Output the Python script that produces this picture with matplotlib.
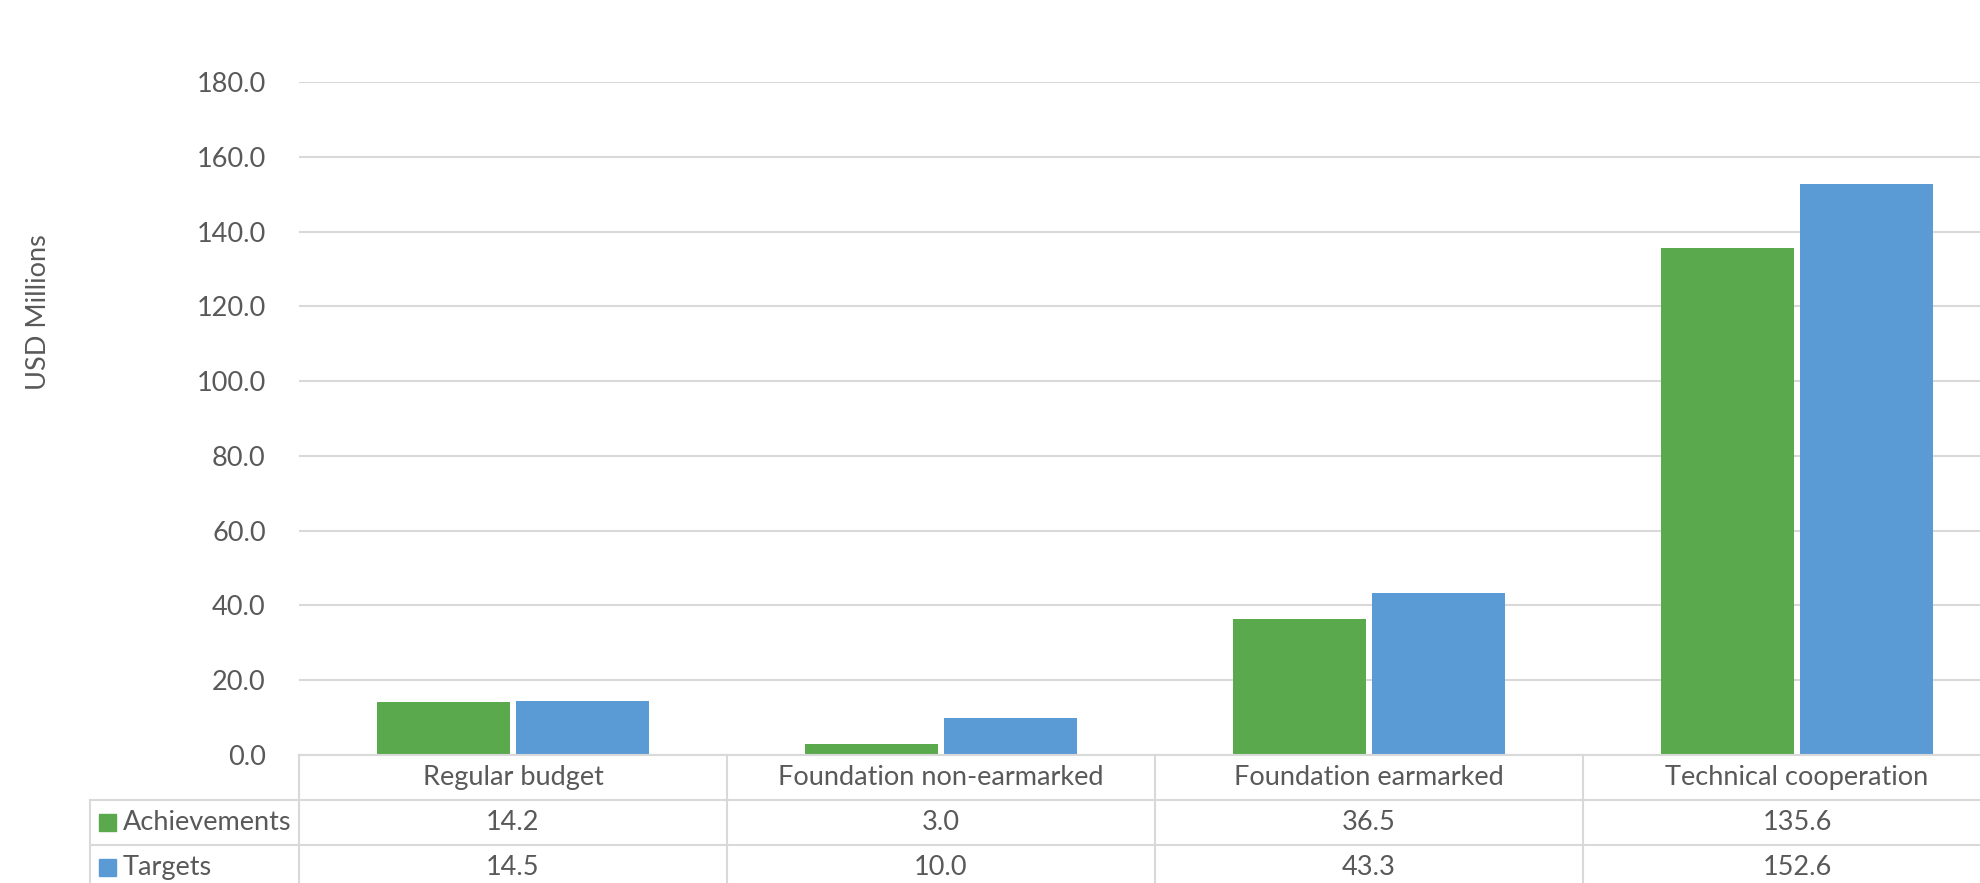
import matplotlib.pyplot as plt
from matplotlib.patches import Rectangle
from matplotlib.transforms import blended_transform_factory

categories = ["Regular budget", "Foundation non-earmarked",
              "Foundation earmarked", "Technical cooperation"]
achievements = [14.2, 3.0, 36.5, 135.6]
targets = [14.5, 10.0, 43.3, 152.6]
series_names = ["Achievements", "Targets"]
series_colors = ["#5AA94D", "#5B9BD5"]
yticks = [0, 20, 40, 60, 80, 100, 120, 140, 160, 180]

TEXT = "#595959"
GRID = "#D9D9D9"
FS = 19.5

plt.rcParams["font.family"] = ["Lato", "DejaVu Sans"]

W, H = 1981, 883
COL = 428          # px per category column (plot runs past the right edge)
AX_L, AX_T, AX_B = 299, 82, 755
AX_H = AX_B - AX_T

fig = plt.figure(figsize=(W / 100, H / 100), dpi=100)
ax = fig.add_axes([AX_L / W, 1 - AX_B / H, 4 * COL / W, AX_H / H])

x = list(range(len(categories)))
bw = 0.311
off = 0.1625
ax.bar([i - off for i in x], achievements, bw, color=series_colors[0], zorder=2)
ax.bar([i + off for i in x], targets, bw, color=series_colors[1], zorder=2)

ax.set_xlim(-0.5, len(categories) - 0.5)
ax.set_ylim(0, 180)
ax.set_yticks(yticks)
ax.set_yticklabels([f"{v:.1f}" for v in yticks], color=TEXT, fontsize=FS)
ax.tick_params(axis="y", length=0, pad=24)
ax.set_xticks([])
ax.grid(axis="y", color=GRID, linewidth=1.5, zorder=0)
for s in ["left", "right", "top"]:
    ax.spines[s].set_visible(False)
ax.spines["bottom"].set_color(GRID)
ax.spines["bottom"].set_linewidth(1.5)

fig.text(39 / W, 1 - 312 / H, "USD Millions", rotation=90, ha="center",
         va="center", color=TEXT, fontsize=FS)

# data table under the chart
tr = blended_transform_factory(ax.transData, ax.transAxes)
rh = 45 / AX_H
x_label_left = -0.5 - 209 / COL
x_right = len(categories) - 0.5
line_kw = dict(color=GRID, linewidth=1.5, transform=tr, clip_on=False)

for k in range(1, 3):
    ax.plot([x_label_left, x_right], [-k * rh, -k * rh], **line_kw)
ax.plot([x_label_left, x_label_left], [-rh, -3 * rh], **line_kw)
for b in range(len(categories)):
    xb = b - 0.5
    ax.plot([xb, xb], [0, -3 * rh], **line_kw)

for i, name in enumerate(categories):
    ax.text(i, -0.5 * rh, name, transform=tr, ha="center", va="center",
            color=TEXT, fontsize=FS, clip_on=False)
for r, vals in enumerate([achievements, targets]):
    yc = -(r + 1.5) * rh
    for i, v in enumerate(vals):
        ax.text(i, yc, f"{v:.1f}", transform=tr, ha="center", va="center",
                color=TEXT, fontsize=FS, clip_on=False)
    # legend key + series name
    ax.add_patch(Rectangle((-0.5 - 200 / COL, yc - 8.5 / AX_H), 17 / COL,
                           17 / AX_H, transform=tr,
                           color=series_colors[r], clip_on=False))
    ax.text(-0.5 - 176 / COL, yc, series_names[r], transform=tr,
            ha="left", va="center", color=TEXT, fontsize=FS, clip_on=False)

fig.savefig("out.png", dpi=100)
